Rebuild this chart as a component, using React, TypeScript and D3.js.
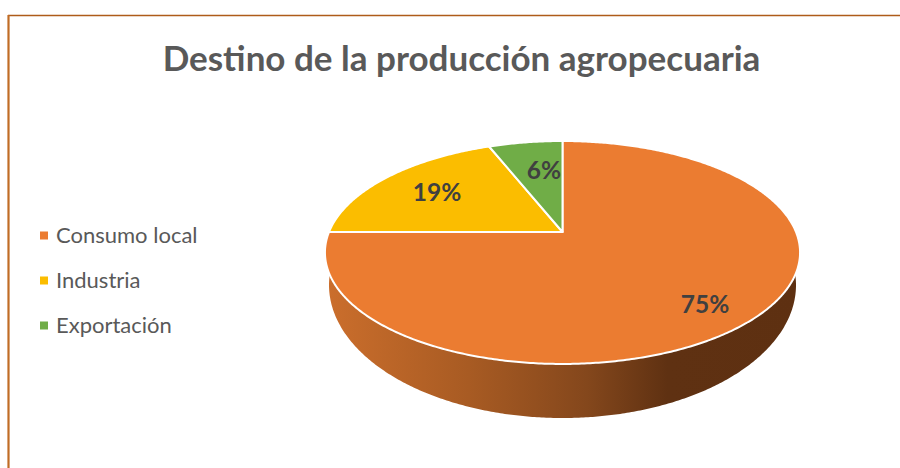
import React from "react";
import * as d3 from "d3";

const categories = ["Consumo local", "Industria", "Exportación"];
const shares = [75, 19, 6];
const sliceColors = ["#EB7C31", "#FBBD00", "#70AD47"];
const chartTitle = "Destino de la producción agropecuaria";
const labelAnchors = [
  [705, 304],
  [437, 192],
  [544, 170],
];

const WIDTH = 900;
const HEIGHT = 468;

// Pie lying on a tilted plane: perspective projection of the unit disc.
const apex = { x: 562.5, y: 232 };
const tilt = { a: 233.5, b: 107.7, k: 0.1838 };
// Lower rim of the pie's side wall.
const lowerRim = { cy: 285, rx: 233.5, ry: 133 };

function project(theta: number): [number, number] {
  const u = Math.sin(theta);
  const v = Math.cos(theta);
  const w = 1 + tilt.k * v;
  return [apex.x + (tilt.a * u) / w, apex.y - (tilt.b * v) / w];
}

function projectLower(theta: number): [number, number] {
  return [apex.x + lowerRim.rx * Math.sin(theta), lowerRim.cy - lowerRim.ry * Math.cos(theta)];
}

function sweep(start: number, end: number, fn: (t: number) => [number, number]) {
  const n = Math.max(2, Math.ceil(Math.abs(end - start) / 0.01));
  return d3.range(n + 1).map((i) => fn(start + ((end - start) * i) / n));
}

const line = d3.line();

export default function App() {
  const pie = d3.pie<number>().sort(null)(shares);

  const wallTop = sweep(Math.PI * 0.45, Math.PI * 1.55, project);
  const wallBottom = sweep(Math.PI * 1.55, Math.PI * 0.45, projectLower);
  const wallPath = line([...wallTop, ...wallBottom]) + "Z";

  const legendY = d3.scalePoint<string>().domain(categories).range([235.5, 325.5]);

  return (
    <svg
      width={WIDTH}
      height={HEIGHT}
      viewBox={`0 0 ${WIDTH} ${HEIGHT}`}
      style={{ position: "absolute", left: 0, top: 0, background: "#fff" }}
    >
      <defs>
        <linearGradient id="wallShade" gradientUnits="userSpaceOnUse" x1={327} x2={800} y1={0} y2={0}>
          <stop offset="0" stopColor="#CB6E2C" />
          <stop offset="0.3" stopColor="#A85B23" />
          <stop offset="0.55" stopColor="#84471C" />
          <stop offset="0.72" stopColor="#5F3112" />
          <stop offset="1" stopColor="#5E3011" />
        </linearGradient>
      </defs>

      <line x1={8} y1={15.5} x2={WIDTH} y2={15.5} stroke="#AE5C1A" strokeWidth={1.6} />
      <line x1={8.5} y1={15} x2={8.5} y2={HEIGHT} stroke="#C06C25" strokeWidth={2.2} />

      <text
        x={461.5}
        y={71}
        textAnchor="middle"
        fontFamily="Lato, 'Open Sans', sans-serif"
        fontWeight={700}
        fontSize={35}
        fill="#595959"
      >
        {chartTitle}
      </text>

      <path d={wallPath} fill="url(#wallShade)" />

      {pie.map((slice, i) => {
        const arc = sweep(slice.startAngle, slice.endAngle, project);
        const d = line([[apex.x, apex.y], ...arc]) + "Z";
        return (
          <path key={categories[i]} d={d} fill={sliceColors[i]} stroke="#fff" strokeWidth={2} strokeLinejoin="round" />
        );
      })}

      {shares.map((v, i) => (
        <text
          key={categories[i]}
          x={labelAnchors[i][0]}
          y={labelAnchors[i][1]}
          dy="0.35em"
          textAnchor="middle"
          fontFamily="Lato, 'Open Sans', sans-serif"
          fontWeight={700}
          fontSize={24.5}
          fill="#404040"
        >
          {v}%
        </text>
      ))}

      {categories.map((c, i) => {
        const y = legendY(c) as number;
        return (
          <g key={c}>
            <rect x={40} y={y - 4} width={8} height={8} fill={sliceColors[i]} />
            <text
              x={56}
              y={y}
              dy="0.35em"
              fontFamily="Lato, 'Open Sans', sans-serif"
              fontSize={22}
              fill="#595959"
            >
              {c}
            </text>
          </g>
        );
      })}
    </svg>
  );
}
